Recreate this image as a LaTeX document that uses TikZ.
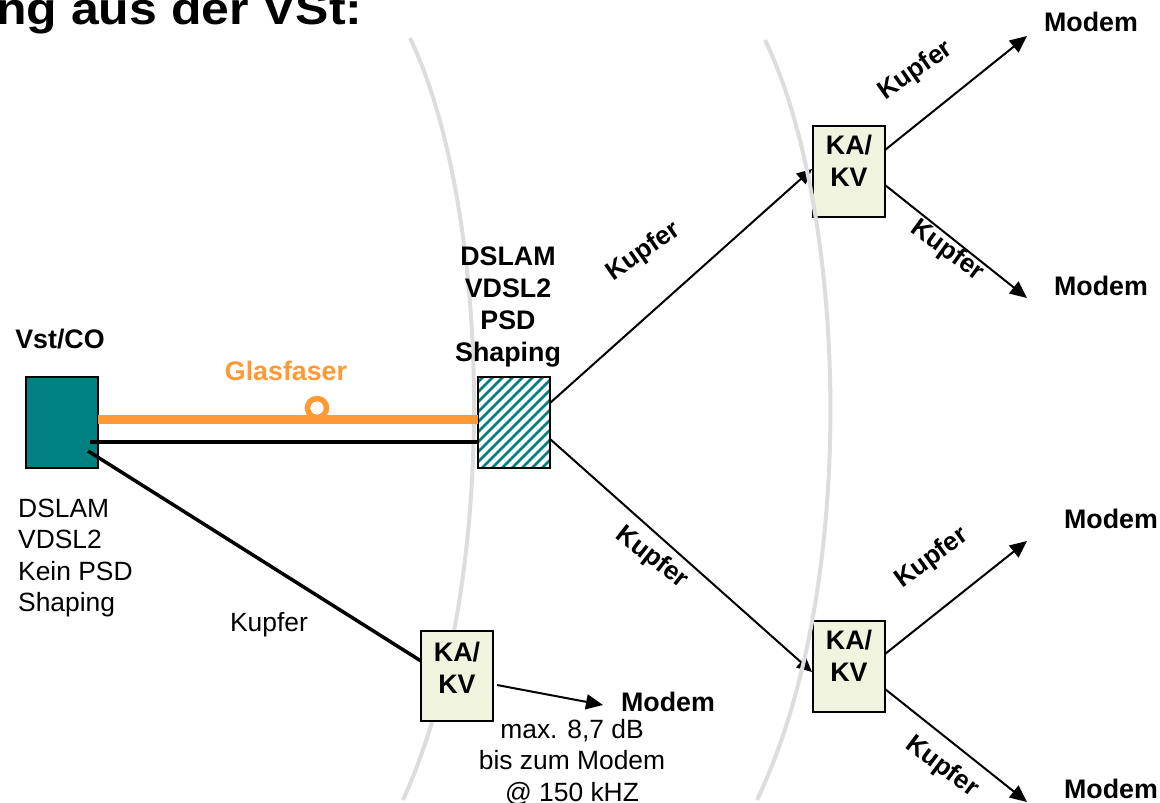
\documentclass[tikz,border=0pt]{standalone}
\usepackage{fontspec}
\setmainfont{Liberation Sans}
\usetikzlibrary{arrows.meta,calc}
\definecolor{tealbox}{RGB}{0,128,128}
\definecolor{fibre}{RGB}{255,153,51}
\definecolor{kabox}{RGB}{240,244,222}
\definecolor{arcgray}{RGB}{221,221,221}
\tikzset{
  x=1pt,y=-1pt,
  reg/.style={font=\fontsize{26.4}{31.5}\selectfont,align=center,inner sep=0pt},
  bold/.style={font=\fontsize{26.8}{32}\selectfont\bfseries,align=center,inner sep=0pt},
  rotbold/.style={font=\fontsize{26}{32}\selectfont\bfseries,inner sep=0pt},
  box/.style={draw=black,line width=2.2pt,minimum width=72pt,minimum height=91pt,inner sep=0pt,outer sep=0pt,anchor=north west},
  kastyle/.style={box,fill=kabox,font=\fontsize{26.8}{32}\selectfont\bfseries,align=center},
  link/.style={black,line width=2pt,-{Triangle[length=17pt,width=15pt]}},
  inlink/.style={black,line width=2pt,-{Triangle[length=15pt,width=14pt]}},
  thick link/.style={black,line width=3.5pt},
  arcline/.style={arcgray,line width=4pt}
}
\begin{document}
\begin{tikzpicture}
\useasboundingbox (0,0) rectangle (1160,803);
\clip (0,0) rectangle (1160,803);
% left arc (under boxes)
\coordinate (al1) at (410,38);
\coordinate (al2) at (403,800);
\draw[arcline] (al1) .. controls (490,205) and (503,580) .. (al2);
% free ends
\coordinate (m1) at (1027,36);
\coordinate (m2) at (1027,298);
\coordinate (m3) at (1027,541);
\coordinate (m4) at (1027,802);
\coordinate (m5) at (603,705);
% connectors into the distribution boxes
\coordinate (d1) at (550,403);
\coordinate (d2) at (550,439);
\coordinate (k1) at (812,169);
\coordinate (k2) at (812,672);
\draw[inlink] (d1) -- (k1);
\draw[inlink] (d2) -- (k2);
% boxes
\node[box,fill=tealbox] (vst) at (26,377) {};
\node[box,fill=white] (dslam) at (478,377) {};
\begin{scope}
\clip (478,377) rectangle (550,467);
\foreach \i in {-10,...,8}{
  \draw[tealbox,line width=2.5pt] ($(dslam.south west)+(\i*10,4)$) -- ++(110,-110);
}
\end{scope}
\draw[black,line width=2.2pt] (dslam.north west) rectangle (dslam.south east);
\node[kastyle,text depth=22pt] (ka1) at (813,126) {KA/\\KV};
\node[kastyle,text depth=22pt] (ka2) at (813,621) {KA/\\KV};
\node[kastyle,minimum height=90pt,text depth=17pt] (ka3) at (421,631) {KA/\\KV};
% connectors
\node[circle,draw=fibre,line width=5.5pt,fill=white,minimum size=19pt,inner sep=0pt] (loop) at (317,408) {};
\draw[fibre,line width=9pt] (vst.east |- 0,419) -- (dslam.west |- 0,419);
\draw[thick link] (90,442) -- (dslam.west |- 0,442);
\coordinate (vstout) at (88,451);
\coordinate (kain) at (421,661);
\draw[thick link] (vstout) -- (kain);
\draw[link] (885,150) -- (m1);
\draw[link] (885,185) -- (m2);
\draw[link] (885,654) -- (m3);
\draw[link] (885,689) -- (m4);
\draw[link] (497,685) -- (m5);
% right arc (over boxes)
\coordinate (ar1) at (765,40);
\coordinate (ar2) at (757,800);
\draw[arcline] (ar1) .. controls (845,205) and (862,580) .. (ar2);
% text
\node[anchor=base west,font=\fontsize{45}{50}\selectfont\bfseries,inner sep=0pt,xscale=1.11] (title) at (-4,24) {ng aus der VSt:};
\node[bold] (lvst) at (60,339) {Vst/CO};
\node[bold,text=fibre] (lglas) at (286,371) {Glasfaser};
\node[bold] (ldslam) at (508,306.5) {DSLAM\\VDSL2\\PSD\\Shaping};
\node[reg,align=left,anchor=north west] (lvdsl) at (18,498.5) {DSLAM\\VDSL2\\Kein PSD\\Shaping};
\node[reg] (lk0) at (269,625) {Kupfer};
\node[rotbold,rotate=35] (lk1) at (643.5,252) {Kupfer};
\node[rotbold,rotate=-38] (lk2) at (652,558) {Kupfer};
\node[rotbold,rotate=35] (lk3) at (916,71) {Kupfer};
\node[rotbold,rotate=-36] (lk4) at (947,251) {Kupfer};
\node[rotbold,rotate=36] (lk5) at (932,558) {Kupfer};
\node[rotbold,rotate=-37] (lk6) at (942,767) {Kupfer};
\node[bold] (lm1) at (1091,22) {Modem};
\node[bold] (lm2) at (1101,286) {Modem};
\node[bold] (lm3) at (1111,519) {Modem};
\node[bold] (lm4) at (1111,789) {Modem};
\node[bold] (lm5) at (668,702) {Modem};
\node[reg] (lmax) at (572,762) {max. 8,7 dB\\bis zum Modem\\@ 150 kHZ};
\end{tikzpicture}
\end{document}
